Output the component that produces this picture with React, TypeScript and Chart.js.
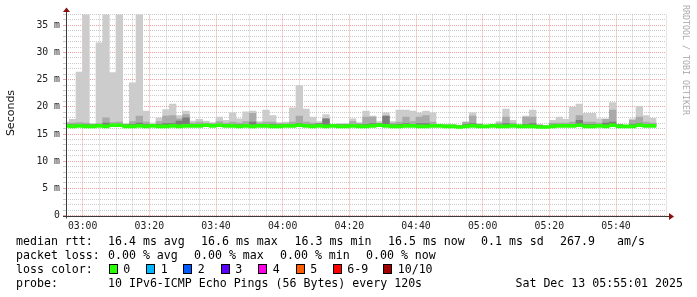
import React, { useEffect, useRef } from 'react';
import { Chart, registerables } from 'chart.js';

Chart.register(...registerables);

// ---- data (one value per 2-minute step, starting 02:55) ----
const startTime = '02:55';
const stepMinutes = 2;

const maxRtt = [
  17.2, 17.7, 26.4, 37.5, 16.9, 31.8, 37.5, 26.3, 37.5, 16.9,
  24.4, 37.5, 19.2, 17.0, 18.0, 19.5, 20.5, 18.4, 19.2, 17.4,
  17.7, 17.4, 17.1, 18.1, 17.5, 18.9, 17.8, 19.1, 19.2, 17.3,
  19.4, 18.4, 17.1, 17.2, 19.8, 23.9, 19.6, 18.1, 17.3, 18.6,
  16.7, 16.9, 16.9, 17.8, 17.1, 19.2, 18.3, 17.3, 18.9, 17.3,
  19.4, 19.4, 19.2, 18.9, 19.2, 18.9, 16.7, 16.7, 16.7, 16.6,
  17.2, 18.9, 16.9, 16.6, 16.7, 17.3, 19.6, 17.5, 16.7, 18.3,
  19.4, 16.7, 16.5, 17.5, 18.1, 17.7, 19.9, 20.5, 18.8, 18.8,
  17.8, 17.8, 20.8, 16.8, 16.5, 17.8, 20.1, 18.4, 17.9,
];

const secondRtt = [
  17.0, 17.0, 17.1, 17.0, 16.8, 16.9, 18.0, 17.1, 17.2, 16.8,
  17.3, 18.3, 17.2, 16.8, 17.3, 18.3, 18.4, 17.8, 18.6, 17.0,
  17.2, 17.0, 16.9, 17.3, 17.0, 17.2, 17.0, 17.3, 18.8, 17.0,
  17.2, 17.2, 16.9, 16.9, 17.2, 18.3, 17.2, 17.0, 16.9, 17.8,
  16.7, 16.8, 16.8, 17.3, 16.9, 18.1, 18.1, 16.9, 18.3, 17.0,
  17.2, 18.1, 17.3, 18.1, 18.4, 17.2, 16.7, 16.7, 16.7, 16.6,
  17.2, 18.3, 16.8, 16.6, 16.7, 17.0, 18.1, 17.0, 16.7, 18.1,
  18.1, 16.7, 16.5, 17.0, 17.0, 17.0, 17.2, 18.4, 17.2, 17.2,
  17.0, 17.7, 19.4, 16.8, 16.5, 17.5, 18.1, 17.2, 17.0,
];

const thirdRtt = [
  16.8, 16.7, 16.8, 16.7, 16.7, 16.7, 17.0, 16.8, 16.8, 16.7,
  16.8, 17.0, 16.8, 16.7, 16.8, 16.9, 16.9, 17.4, 18.0, 16.7,
  16.8, 16.7, 16.7, 16.8, 16.7, 16.8, 16.7, 16.8, 17.2, 16.7,
  16.8, 16.8, 16.7, 16.7, 16.8, 16.9, 16.8, 16.7, 16.9, 17.8,
  16.6, 16.7, 16.7, 16.8, 16.7, 16.8, 16.9, 16.9, 18.3, 16.7,
  16.8, 16.9, 16.8, 16.9, 16.9, 16.8, 16.6, 16.6, 16.6, 16.5,
  16.8, 16.9, 16.7, 16.5, 16.6, 16.7, 16.9, 16.7, 16.6, 16.8,
  16.9, 16.6, 16.4, 16.7, 16.7, 16.7, 16.8, 17.5, 16.8, 16.8,
  16.7, 17.0, 17.2, 16.7, 16.4, 16.8, 16.9, 16.8, 16.7,
];

const medianRtt = [
  16.5, 16.4, 16.5, 16.4, 16.4, 16.5, 16.4, 16.6, 16.6, 16.4,
  16.4, 16.5, 16.4, 16.5, 16.4, 16.4, 16.5, 16.4, 16.5, 16.5,
  16.5, 16.6, 16.5, 16.6, 16.5, 16.5, 16.4, 16.5, 16.4, 16.5,
  16.5, 16.4, 16.4, 16.5, 16.5, 16.6, 16.5, 16.4, 16.5, 16.4,
  16.5, 16.4, 16.4, 16.5, 16.4, 16.4, 16.5, 16.6, 16.5, 16.4,
  16.4, 16.5, 16.5, 16.4, 16.4, 16.5, 16.5, 16.4, 16.4, 16.3,
  16.4, 16.5, 16.4, 16.4, 16.5, 16.4, 16.4, 16.5, 16.4, 16.4,
  16.4, 16.3, 16.3, 16.4, 16.5, 16.5, 16.5, 16.6, 16.4, 16.4,
  16.5, 16.4, 16.6, 16.4, 16.4, 16.4, 16.6, 16.5, 16.5,
];

const xRangeMinutes = [0, 180];
const yRangeMs = [0, 37];

const rttLegend = ['16.4 ms avg', '16.6 ms max', '16.3 ms min', '16.5 ms now', '0.1 ms sd', '267.9', 'am/s'];
const lossLegend = ['0.00 % avg', '0.00 % max', '0.00 % min', '0.00 % now'];
const lossLabels = ['0', '1', '2', '3', '4', '5', '6-9', '10/10'];
const lossColors = ['#26ff00', '#00b8ff', '#0059ff', '#5e00ff', '#ff00e6', '#ff5e00', '#ff0000', '#a10000'];
const probeText = '10 IPv6-ICMP Echo Pings (56 Bytes) every 120s';
const dateText = 'Sat Dec 13 05:55:01 2025';
const yTitle = 'Seconds';
const watermark = 'RRDTOOL / TOBI OETIKER';

// ---- layout (styles only) ----
const rttLefts = [108, 201, 294.6, 388, 481, 560, 617];
const lossLefts = [108, 194, 280, 366];
const squareLefts = [108.5, 146, 183, 220.5, 258, 295.5, 332.6, 383];

const MONO = '"DejaVu Sans Mono", monospace';

function fmtTime(minOffset: number) {
  const [h, m] = startTime.split(':').map(Number);
  const t = h * 60 + m + minOffset;
  const hh = Math.floor(t / 60) % 24;
  const mm = t % 60;
  return `${String(hh).padStart(2, '0')}:${String(mm).padStart(2, '0')}`;
}

const axisPlugin = {
  id: 'rrdAxes',
  afterDraw(chart: any) {
    const { ctx, chartArea: a } = chart;
    const x0 = Math.round(a.left) + 0.5;
    const y0 = Math.round(a.bottom) + 0.5;
    ctx.save();
    ctx.strokeStyle = '#3a3a3a';
    ctx.lineWidth = 1;
    ctx.beginPath();
    ctx.moveTo(x0, a.bottom + 3);
    ctx.lineTo(x0, a.top - 3);
    ctx.moveTo(a.left - 3, y0);
    ctx.lineTo(a.right + 3, y0);
    ctx.stroke();
    ctx.fillStyle = '#8b1010';
    ctx.beginPath();
    ctx.moveTo(x0 - 3.5, a.top - 2.5);
    ctx.lineTo(x0 + 3.5, a.top - 2.5);
    ctx.lineTo(x0, a.top - 7);
    ctx.closePath();
    ctx.fill();
    ctx.beginPath();
    ctx.moveTo(a.right + 3, y0 - 3.5);
    ctx.lineTo(a.right + 3, y0 + 3.5);
    ctx.lineTo(a.right + 8, y0);
    ctx.closePath();
    ctx.fill();
    ctx.restore();
  },
};

const GRID_MINOR = 'rgba(160,160,160,0.55)';
const GRID_MAJOR = 'rgba(225,70,70,0.5)';

export default function App() {
  const ref = useRef<HTMLCanvasElement>(null);

  useEffect(() => {
    if (!ref.current) return;
    const band = (hi: number[]) =>
      hi.map((v, i) => ({ x: i * stepMinutes, y: [medianRtt[i], v] }));
    const common = { grouped: false, barPercentage: 1, categoryPercentage: 1, borderWidth: 0 };
    const chart = new Chart(ref.current, {
      type: 'bar',
      data: {
        datasets: [
          {
            ...common,
            label: 'median',
            data: medianRtt.map((m, i) => ({ x: i * stepMinutes, y: [m - 0.27, m + 0.27] })),
            backgroundColor: lossColors[0],
          },
          { ...common, label: 'smoke3', data: band(thirdRtt), backgroundColor: '#7c7c7c' },
          { ...common, label: 'smoke2', data: band(secondRtt), backgroundColor: '#a9a9a9' },
          { ...common, label: 'smoke1', data: band(maxRtt), backgroundColor: '#cccccc' },
        ] as any,
      },
      options: {
        animation: false,
        responsive: false,
        devicePixelRatio: 1,
        layout: { padding: { left: 0, right: 31, top: 14.5, bottom: 0 } },
        plugins: { legend: { display: false }, tooltip: { enabled: false } },
        scales: {
          x: {
            type: 'linear',
            min: xRangeMinutes[0],
            max: xRangeMinutes[1],
            offset: false,
            grid: {
              offset: false,
              tickLength: 2,
              color: (c: any) => ((c.tick.value - 5) % 20 === 0 ? GRID_MAJOR : GRID_MINOR),
            },
            border: { display: false, dash: [1, 1] },
            ticks: {
              stepSize: 5,
              autoSkip: false,
              maxRotation: 0,
              padding: 3,
              color: '#222',
              font: { family: MONO, size: 9.8 },
              callback: (v: any) => ((v - 5) % 20 === 0 ? fmtTime(v) : ''),
            },
            afterFit: (s: any) => {
              s.height = 81.5;
            },
          },
          y: {
            min: yRangeMs[0],
            max: yRangeMs[1],
            grid: {
              tickLength: 3,
              color: (c: any) => (c.tick.value % 5 === 0 ? GRID_MAJOR : GRID_MINOR),
            },
            border: { display: false, dash: [1, 1] },
            ticks: {
              stepSize: 1,
              autoSkip: false,
              padding: 3,
              color: '#222',
              font: { family: MONO, size: 9.8 },
              callback: (v: any) => (v % 5 === 0 ? (v === 0 ? '0' : `${v} m`) : ''),
            },
            afterFit: (s: any) => {
              s.width = 66;
            },
          },
        },
      } as any,
      plugins: [axisPlugin],
    });
    return () => chart.destroy();
  }, []);

  const text = (content: string, left: number, centerY: number, extra: any = {}) => (
    <div
      key={content + left + centerY}
      style={{
        position: 'absolute',
        left,
        top: centerY - 7,
        height: 14,
        lineHeight: '14px',
        whiteSpace: 'pre',
        fontFamily: MONO,
        fontSize: 11.6,
        color: '#000',
        ...extra,
      }}
    >
      {content}
    </div>
  );

  return (
    <div style={{ position: 'absolute', left: 0, top: 0, width: 697, height: 297, background: '#fff', overflow: 'hidden' }}>
      <canvas ref={ref} width={697} height={297} style={{ position: 'absolute', left: 0, top: 0, width: 697, height: 297 }} />
      <div
        style={{
          position: 'absolute',
          left: 11 - 40,
          top: 113 - 8,
          width: 80,
          height: 16,
          lineHeight: '16px',
          textAlign: 'center',
          transform: 'rotate(-90deg)',
          fontFamily: '"DejaVu Sans", sans-serif',
          fontSize: 11,
          color: '#111',
        }}
      >
        {yTitle}
      </div>
      <div
        style={{
          position: 'absolute',
          left: 686 - 60,
          top: 60 - 5,
          width: 120,
          height: 10,
          lineHeight: '10px',
          textAlign: 'center',
          transform: 'rotate(90deg)',
          fontFamily: MONO,
          fontSize: 8.3,
          color: '#aaa',
          whiteSpace: 'pre',
        }}
      >
        {watermark}
      </div>
      {text('median rtt:', 16, 241)}
      {rttLegend.map((s, i) => text(s, rttLefts[i], 241))}
      {text('packet loss:', 16, 255)}
      {lossLegend.map((s, i) => text(s, lossLefts[i], 255))}
      {text('loss color:', 16, 269)}
      {lossLabels.map((s, i) => (
        <React.Fragment key={'lc' + i}>
          <div
            style={{
              position: 'absolute',
              left: squareLefts[i],
              top: 264,
              width: 9,
              height: 10,
              boxSizing: 'border-box',
              border: '1px solid #000',
              background: lossColors[i],
            }}
          />
          {text(s, squareLefts[i] + 14.7, 269)}
        </React.Fragment>
      ))}
      {text('probe:', 16, 283)}
      {text(probeText, 108, 283)}
      {text(dateText, 0, 283, { left: 'auto', right: 14 })}
    </div>
  );
}
